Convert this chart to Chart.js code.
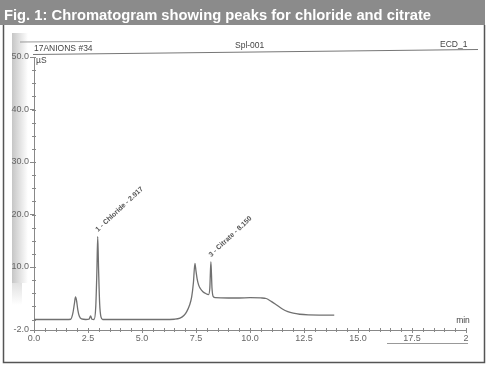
<!DOCTYPE html>
<html><head><meta charset="utf-8">
<script src="https://cdn.jsdelivr.net/npm/chart.js@4.4.1/dist/chart.umd.min.js"></script>
<style>html,body{margin:0;padding:0;background:#fff;overflow:hidden}canvas{display:block}</style>
</head><body>
<canvas id="c" width="488" height="366"></canvas>
<script>
// ---- text ----
const titleText = "Fig. 1: Chromatogram showing peaks for chloride and citrate";
const headerLeft = "17ANIONS #34";
const headerMid = "Spl-001";
const headerRight = "ECD_1";
const yUnit = "µS";
const xUnit = "min";

// ---- chromatogram trace (retention time in min, signal in µS) ----
const timeMin = [0.0,0.5,1.0,1.5,1.70,1.80,1.87,1.92,1.97,2.03,2.10,2.20,2.40,2.55,2.62,2.68,2.78,2.86,2.91,2.95,2.99,3.04,3.10,3.18,4.0,5.0,6.0,6.5,6.76,6.95,7.07,7.20,7.30,7.38,7.45,7.50,7.55,7.62,7.70,7.82,7.95,8.08,8.14,8.19,8.24,8.30,8.40,9.0,9.5,10.0,10.5,10.75,11.0,11.25,11.5,11.75,12.0,12.3,12.7,13.2,13.9];
const signalUS = [0.0,0.0,0.0,0.0,0.05,1.2,3.0,4.3,3.6,1.8,0.6,0.1,0.0,0.05,0.7,0.05,0.0,2.5,9.0,15.8,9.5,3.0,0.5,0.0,0.0,0.0,0.0,0.05,0.25,0.8,1.5,2.7,4.3,7.0,10.7,9.2,7.8,6.6,5.9,5.3,4.95,4.75,6.0,11.0,6.0,4.35,4.15,4.1,4.1,4.15,4.1,4.0,3.4,2.7,2.0,1.5,1.2,1.0,0.88,0.85,0.85];

// ---- axes ----
const xTickValues = [0,2.5,5,7.5,10,12.5,15,17.5,20];
const xTickLabels = ["0.0","2.5","5.0","7.5","10.0","12.5","15.0","17.5","2"];
const yTickValues = [-2,10,20,30,40,50];
const yTickLabels = ["-2.0","10.0","20.0","30.0","40.0","50.0"];
const xMinorStep = 0.5;
const yMinorStep = 2.5;

// ---- peak annotations ----
const peakLabels = ["1 - Chloride - 2.917","3 - Citrate - 8.150"];
const peakTimes = [2.95, 8.19];
const peakHeights = [15.8, 11.0];

const FONT = "'Liberation Sans', Arial, sans-serif";

const decor = {
  id: 'decor',
  beforeDraw(chart) {
    const ctx = chart.ctx;
    ctx.save();
    ctx.fillStyle = '#fff';
    ctx.fillRect(0, 0, 488, 366);
    // title bar
    ctx.fillStyle = '#8b8b8b';
    ctx.fillRect(0, 0, 485, 25);
    ctx.font = "bold 15px " + FONT;
    ctx.fillStyle = '#fff';
    ctx.textBaseline = 'alphabetic';
    const w = ctx.measureText(titleText).width;
    ctx.save();
    ctx.translate(4, 20);
    ctx.scale(427 / w, 1);
    ctx.fillText(titleText, 0, 0);
    ctx.restore();
    // box border
    ctx.strokeStyle = '#555';
    ctx.lineWidth = 1.5;
    ctx.beginPath();
    ctx.moveTo(3.5, 25); ctx.lineTo(3.5, 362.5); ctx.lineTo(484.5, 362.5); ctx.lineTo(484.5, 25);
    ctx.stroke();
    // scanner shadow strip
    const g = ctx.createLinearGradient(12, 0, 28, 0);
    g.addColorStop(0, 'rgba(160,160,160,0.6)');
    g.addColorStop(1, 'rgba(160,160,160,0)');
    ctx.fillStyle = g;
    ctx.fillRect(12, 33, 16, 250);
    const g2 = ctx.createLinearGradient(0, 283, 0, 305);
    g2.addColorStop(0, 'rgba(170,170,170,0.35)');
    g2.addColorStop(1, 'rgba(170,170,170,0)');
    ctx.fillStyle = g2;
    ctx.fillRect(12, 283, 10, 22);
    // stray scan lines
    ctx.strokeStyle = '#999';
    ctx.lineWidth = 1;
    ctx.beginPath(); ctx.moveTo(20, 42); ctx.lineTo(92, 41.5); ctx.stroke();
    ctx.beginPath(); ctx.moveTo(387, 343.5); ctx.lineTo(468, 343.5); ctx.stroke();
    ctx.restore();
  },
  afterDraw(chart) {
    const ctx = chart.ctx;
    const xs = chart.scales.x, ys = chart.scales.y;
    const area = chart.chartArea;
    ctx.save();
    // top frame line
    ctx.strokeStyle = '#777';
    ctx.lineWidth = 1;
    ctx.beginPath(); ctx.moveTo(33, 54.5); ctx.lineTo(478, 49.5); ctx.stroke();
    // header texts
    ctx.fillStyle = '#444';
    ctx.font = "8.5px " + FONT;
    ctx.textBaseline = 'middle';
    ctx.textAlign = 'left';
    ctx.fillText(headerLeft, 34, 49);
    ctx.fillText(headerMid, 235, 46);
    ctx.fillText(headerRight, 440, 45);
    ctx.fillText(yUnit, 36, 61);
    ctx.textAlign = 'center';
    ctx.fillText(xUnit, 463, 321);
    // minor ticks
    ctx.strokeStyle = '#888';
    ctx.lineWidth = 1;
    for (let v = 0; v <= 20 + 1e-9; v += xMinorStep) {
      const px = Math.round(xs.getPixelForValue(v)) + 0.5;
      ctx.beginPath(); ctx.moveTo(px, area.bottom - 2); ctx.lineTo(px, area.bottom + 2); ctx.stroke();
    }
    for (let v = 0; v <= 50 + 1e-9; v += yMinorStep) {
      const py = Math.round(ys.getPixelForValue(v)) + 0.5;
      ctx.beginPath(); ctx.moveTo(area.left - 2, py); ctx.lineTo(area.left + 2, py); ctx.stroke();
    }
    // peak labels
    ctx.fillStyle = '#555';
    ctx.font = "bold 7px " + FONT;
    ctx.textAlign = 'left';
    ctx.textBaseline = 'middle';
    for (let i = 0; i < peakLabels.length; i++) {
      const px = xs.getPixelForValue(peakTimes[i]);
      const py = ys.getPixelForValue(peakHeights[i]) - 6;
      ctx.save();
      ctx.translate(px - 1, py);
      ctx.rotate(-43 * Math.PI / 180);
      ctx.fillText(peakLabels[i], 0, 0);
      ctx.restore();
    }
    ctx.restore();
  }
};

new Chart(document.getElementById('c'), {
  type: 'line',
  data: {
    datasets: [{
      data: timeMin.map((t, i) => ({ x: t, y: signalUS[i] })),
      borderColor: '#707070',
      borderWidth: 1.3,
      pointRadius: 0,
      fill: false,
      cubicInterpolationMode: 'monotone'
    }]
  },
  options: {
    responsive: false,
    animation: false,
    devicePixelRatio: 1,
    layout: { padding: { left: 0, top: 57, right: 22, bottom: 0 } },
    plugins: { legend: { display: false }, tooltip: { enabled: false }, title: { display: false } },
    scales: {
      x: {
        type: 'linear', min: 0, max: 20,
        afterBuildTicks: s => { s.ticks = xTickValues.map(v => ({ value: v })); },
        afterFit: s => { s.height = 36; },
        ticks: {
          autoSkip: false, maxRotation: 0, padding: 0, color: '#666',
          font: { family: FONT, size: 9 },
          callback: v => xTickLabels[xTickValues.indexOf(v)]
        },
        grid: { drawOnChartArea: false, drawTicks: true, tickLength: 3, color: '#888' },
        border: { display: true, color: '#888', width: 1 }
      },
      y: {
        type: 'linear', min: -2, max: 50,
        afterBuildTicks: s => { s.ticks = yTickValues.map(v => ({ value: v })); },
        afterFit: s => { s.width = 34; },
        ticks: {
          autoSkip: false, padding: 1, color: '#666',
          font: { family: FONT, size: 9 },
          callback: v => yTickLabels[yTickValues.indexOf(v)]
        },
        grid: { drawOnChartArea: false, drawTicks: true, tickLength: 4, color: '#888' },
        border: { display: true, color: '#888', width: 1 }
      }
    }
  },
  plugins: [decor]
});
</script>
</body></html>
